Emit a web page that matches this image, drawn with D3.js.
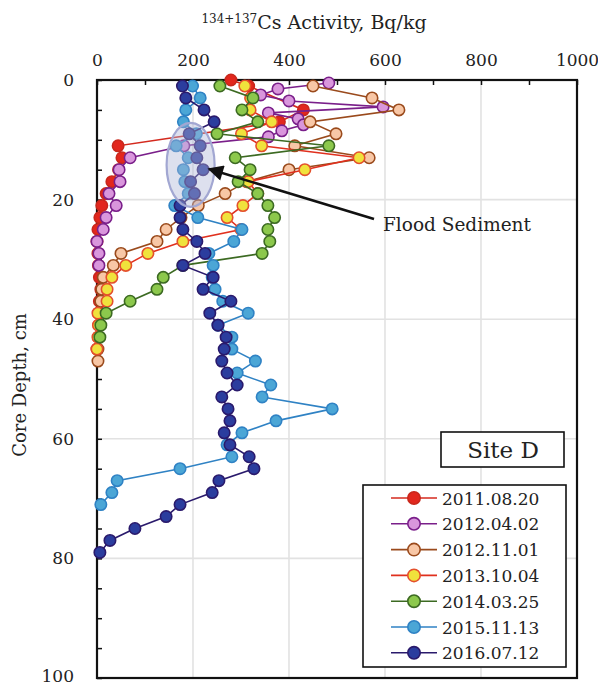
<!DOCTYPE html>
<html>
<head>
<meta charset="utf-8">
<script src="https://cdn.jsdelivr.net/npm/d3@7"></script>
<style>
  body { margin: 0; background: #fff; }
  text { font-family: "DejaVu Serif", serif; fill: #222; }
</style>
</head>
<body>
<div id="chart"></div>
<script>
// depth (cm) and 134+137Cs activity (Bq/kg) per sampling date
var depth2011 = [0, 1, 5, 7, 11, 13, 15, 17, 19, 21, 23, 25, 27, 29, 31, 33, 35, 37, 39, 41, 43, 45];
var cs2011    = [279, 316, 430, 380, 44, 52, 45, 31, 19, 10, 6, 2, 0, 2, 3, 5, 8, 5, 3, 6, 4, 0];

var depth2012a = [0.5, 1.5, 2.5, 3.5, 4.5, 5.5, 6.5, 7.5, 8.5, 9.5, 11, 13, 15, 17, 19, 21, 23, 25, 27, 29, 31];
var cs2012a    = [483, 377, 341, 400, 596, 357, 419, 430, 385, 357, 181, 69, 46, 48, 25, 40, 19, 13, 0, 4, 4];

var depth2012b = [1, 3, 5, 7, 9, 11, 13, 15, 17, 19, 21, 23, 25, 27, 29, 31, 33, 35, 37, 39, 41, 43, 45, 47];
var cs2012b    = [450, 573, 629, 444, 498, 412, 567, 400, 312, 267, 211, 175, 144, 125, 50, 34, 13, 10, 8, 5, 4, 3, 2, 2];

var depth2013 = [1, 3, 5, 7, 9, 11, 13, 15, 17, 19, 21, 23, 25, 27, 29, 31, 33, 35, 37, 39, 41, 43, 45];
var cs2013    = [308, 320, 319, 364, 301, 343, 546, 433, 315, 335, 304, 271, 300, 179, 106, 60, 31, 21, 21, 2, 3, 2, 0];

var depth2014 = [1, 3, 5, 7, 9, 11, 13, 15, 17, 19, 21, 23, 25, 27, 29, 31, 33, 35, 37, 39, 41, 43];
var cs2014    = [256, 325, 302, 335, 250, 483, 288, 319, 294, 335, 356, 370, 356, 360, 344, 179, 138, 125, 69, 19, 8, 6];

var depth2015 = [1, 3, 5, 7, 9, 11, 13, 15, 17, 19, 21, 23, 25, 27, 29, 31, 33, 35, 37, 39, 41, 43, 45, 47, 49, 51, 53, 55, 57, 59, 61, 63, 65, 67, 69, 71];
var cs2015    = [199, 215, 185, 180, 207, 165, 190, 180, 183, 190, 162, 210, 302, 285, 233, 242, 240, 246, 262, 315, 252, 281, 281, 330, 292, 362, 344, 490, 373, 302, 271, 281, 173, 42, 31, 8];

var depth2016 = [1, 3, 5, 7, 9, 11, 13, 15, 17, 19, 21, 23, 25, 27, 29, 31, 33, 35, 37, 39, 41, 43, 45, 47, 49, 51, 53, 55, 57, 59, 61, 63, 65, 67, 69, 71, 73, 75, 77, 79];
var cs2016    = [178, 185, 223, 244, 192, 215, 208, 221, 195, 203, 173, 173, 179, 208, 225, 179, 242, 221, 279, 235, 252, 269, 265, 260, 271, 292, 260, 273, 277, 265, 277, 317, 327, 254, 240, 173, 144, 79, 27, 6];

var seriesNames = ["2011.08.20", "2012.04.02", "2012.11.01", "2013.10.04", "2014.03.25", "2015.11.13", "2016.07.12"];
var xTicks = [0, 200, 400, 600, 800, 1000];
var yTicks = [0, 20, 40, 60, 80, 100];

var styles = [
  { fill: "#e2271d", stroke: "#c8281c", line: "#d42a1e" },
  { fill: "#d996dc", stroke: "#7a1f8a", line: "#7a1f8a" },
  { fill: "#f8c7a6", stroke: "#9a4a1c", line: "#9a4a1c" },
  { fill: "#f0e23c", stroke: "#e4502c", line: "#e0301e" },
  { fill: "#8cc84c", stroke: "#3c6a22", line: "#3c6a22" },
  { fill: "#4ba6d6", stroke: "#2f82c4", line: "#2f82c4" },
  { fill: "#2b3d9e", stroke: "#2a1a6c", line: "#2a1a6c" }
];

var allDepths = [depth2011, depth2012a, depth2012b, depth2013, depth2014, depth2015, depth2016];
var allValues = [cs2011, cs2012a, cs2012b, cs2013, cs2014, cs2015, cs2016];

var series = seriesNames.map(function(name, i){
  return {
    name: name,
    style: styles[i],
    points: allDepths[i].map(function(d, j){ return { depth: d, value: allValues[i][j] }; })
  };
});

var W = 598, H = 686;
var margin = { top: 80, left: 97, right: 21, bottom: 8 };
var width = W - margin.left - margin.right,
    height = H - margin.top - margin.bottom;

var svg = d3.select("#chart").append("svg")
    .attr("width", W)
    .attr("height", H);

var g = svg.append("g")
    .attr("transform", "translate(" + margin.left + "," + margin.top + ")");

var x = d3.scaleLinear().domain([0, 1000]).range([0, width]);
var y = d3.scaleLinear().domain([0, 100]).range([0, height]);

// grid
g.append("g").selectAll("line")
    .data([200, 400, 600, 800])
    .enter().append("line")
    .attr("x1", function(d){ return x(d); }).attr("x2", function(d){ return x(d); })
    .attr("y1", 0).attr("y2", height)
    .attr("stroke", "#e2e2e2").attr("stroke-width", 1.6);
g.append("g").selectAll("line")
    .data([20, 40, 60, 80])
    .enter().append("line")
    .attr("y1", function(d){ return y(d); }).attr("y2", function(d){ return y(d); })
    .attr("x1", 0).attr("x2", width)
    .attr("stroke", "#e2e2e2").attr("stroke-width", 1.6);

// axes, ticks pointing inside
var xAxis = d3.axisTop(x).tickValues(d3.range(0, 1001, 100)).tickSize(-5).tickPadding(14)
    .tickFormat(function(d){ return xTicks.indexOf(d) >= 0 ? d : ""; });
var gx = g.append("g").call(xAxis);
gx.select(".domain").remove();
gx.selectAll("line").attr("stroke", "#111").attr("stroke-width", 1.5);
gx.selectAll("text").style("font-size", "17px").style("font-family", "DejaVu Serif, serif").attr("fill", "#222");

var yAxis = d3.axisLeft(y).tickValues(d3.range(0, 101, 5)).tickSize(-5).tickPadding(23)
    .tickFormat(function(d){ return yTicks.indexOf(d) >= 0 ? d : ""; });
var gy = g.append("g").call(yAxis);
gy.select(".domain").remove();
gy.selectAll("line").attr("stroke", "#111").attr("stroke-width", 1.5);
gy.selectAll("text").style("font-size", "17px").style("font-family", "DejaVu Serif, serif").attr("fill", "#222")
    .attr("dy", function(d){ return d === 100 ? "0.2em" : "0.32em"; });

// frame
g.append("rect")
    .attr("width", width).attr("height", height)
    .attr("fill", "none").attr("stroke", "#111").attr("stroke-width", 2.2);

// series
var line = d3.line()
    .x(function(d){ return x(d.value); })
    .y(function(d){ return y(d.depth); });

series.forEach(function(s){
  var sg = g.append("g");
  sg.append("path")
      .datum(s.points)
      .attr("d", line)
      .attr("fill", "none")
      .attr("stroke", s.style.line)
      .attr("stroke-width", 1.6);
  sg.selectAll("circle")
      .data(s.points)
      .enter().append("circle")
      .attr("cx", function(d){ return x(d.value); })
      .attr("cy", function(d){ return y(d.depth); })
      .attr("r", 5.7)
      .attr("fill", s.style.fill)
      .attr("stroke", s.style.stroke)
      .attr("stroke-width", 1.6);
});

// flood sediment ellipse
g.append("ellipse")
    .attr("cx", x(195)).attr("cy", y(14.2))
    .attr("rx", 24).attr("ry", 42)
    .attr("fill", "rgba(175,182,215,0.42)")
    .attr("stroke", "#a2a7d2").attr("stroke-width", 2.2);

// arrow
svg.append("defs").append("marker")
    .attr("id", "arrowhead")
    .attr("viewBox", "0 0 10 10")
    .attr("refX", 9).attr("refY", 5)
    .attr("markerWidth", 8).attr("markerHeight", 6)
    .attr("markerUnits", "strokeWidth")
    .attr("orient", "auto")
    .append("path").attr("d", "M0,0 L10,5 L0,10 Z").attr("fill", "#111");

svg.append("line")
    .attr("x1", 374).attr("y1", 219)
    .attr("x2", 209).attr("y2", 169)
    .attr("stroke", "#111").attr("stroke-width", 2.6)
    .attr("marker-end", "url(#arrowhead)");

svg.append("text")
    .attr("x", 383).attr("y", 231)
    .style("font-size", "18.5px")
    .text("Flood Sediment");

// titles
var title = svg.append("text")
    .attr("x", 314).attr("y", 29)
    .attr("text-anchor", "middle")
    .style("font-size", "19px");
title.append("tspan").attr("dy", "-6").style("font-size", "12px").text("134+137");
title.append("tspan").attr("dy", "6").text("Cs Activity, Bq/kg");

svg.append("text")
    .attr("transform", "translate(26," + (margin.top + height / 2 + 6) + ") rotate(-90)")
    .attr("text-anchor", "middle")
    .style("font-size", "18px")
    .text("Core Depth, cm");

// site label
svg.append("rect")
    .attr("x", 441).attr("y", 432).attr("width", 123).attr("height", 35)
    .attr("fill", "#fff").attr("stroke", "#111").attr("stroke-width", 1.6);
svg.append("text")
    .attr("x", 503).attr("y", 458)
    .attr("text-anchor", "middle")
    .style("font-size", "23px")
    .text("Site D");

// legend
var legend = svg.append("g").attr("transform", "translate(363,485)");
legend.append("rect")
    .attr("width", 203).attr("height", 182)
    .attr("fill", "#fff").attr("stroke", "#111").attr("stroke-width", 1.6);

var item = legend.selectAll(".item")
    .data(series)
    .enter().append("g")
    .attr("class", "item")
    .attr("transform", function(d, i){ return "translate(0," + (13 + i * 25.8) + ")"; });
item.append("line")
    .attr("x1", 28).attr("x2", 74)
    .attr("stroke", function(d){ return d.style.line; })
    .attr("stroke-width", 1.6);
item.append("circle")
    .attr("cx", 51).attr("r", 6.2)
    .attr("fill", function(d){ return d.style.fill; })
    .attr("stroke", function(d){ return d.style.stroke; })
    .attr("stroke-width", 1.6);
item.append("text")
    .attr("x", 79).attr("y", 6.5)
    .style("font-size", "17px")
    .text(function(d){ return d.name; });
</script>
</body>
</html>
